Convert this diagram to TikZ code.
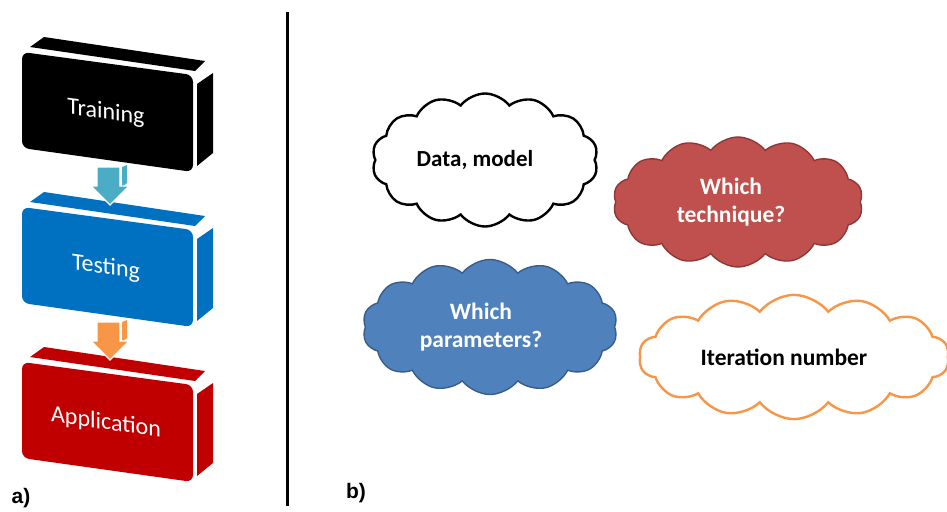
\documentclass[tikz,border=0pt]{standalone}
\usepackage{fontspec}
\setmainfont{Carlito}
\newfontfamily\lblfont{Liberation Sans}
\usetikzlibrary{shapes.symbols}
\definecolor{tstblue}{HTML}{0070C0}
\definecolor{appred}{HTML}{C00000}
\definecolor{arrblue}{HTML}{4BACC6}
\definecolor{arrorange}{HTML}{F79646}
\definecolor{techred}{HTML}{C0504D}
\definecolor{techdraw}{HTML}{8C3836}
\definecolor{parblue}{HTML}{4F81BD}
\definecolor{pardraw}{HTML}{385D8A}
\tikzset{
  % --- stage blocks (left panel) ---------------------------------------------
  boxtxt/.style={text=white,font=\fontsize{24}{26}\selectfont,yslant=-0.135,
                 inner sep=0pt},
  barr/.style={draw=white,line width=1.2pt},
  % --- question clouds (right panel) -----------------------------------------
  cl/.style={cloud,cloud puffs=14,cloud puff arc=105,align=center,
             inner sep=0pt,font=\bfseries\fontsize{23.5}{28}\selectfont},
  lbl/.style={font=\lblfont\bfseries\fontsize{21}{23}\selectfont,inner sep=0pt},
}
\begin{document}
\begin{tikzpicture}[x=1pt,y=-1pt]
  \useasboundingbox (0,0) rectangle (947,511);
  % three stacked blocks
  \foreach \yo/\col/\txt/\nm in {0/black/Training/trn,155/tstblue/Testing/tst,310/appred/Application/app}{
    \begin{scope}[shift={(0,\yo)}]
      \fill[\col] (30,47) -- (44,37) -- (205,61) -- (195,71) -- cycle;
      \fill[\col] (197,84) -- (213,73) -- (213,153) -- (197,166) -- cycle;
      \fill[\col,rounded corners=7pt] (22,52) -- (193,75) -- (193,172) -- (22,148) -- cycle;
      \node[boxtxt] (\nm) at (106,113) {\txt};
    \end{scope}
  }
  % block arrows between stages
  \foreach \yo/\col in {0/arrblue,155/arrorange}{
    \begin{scope}[shift={(0,\yo)}]
      \fill[\col] (122,167) -- (127,165) -- (127,183) -- (122,187) -- cycle;
      \filldraw[barr,fill=\col] (97,167) -- (120,167) -- (120,186) -- (129,186)
        -- (110,205) -- (91,186) -- (97,186) -- cycle;
    \end{scope}
  }
  \draw[line width=3pt] (287,12) -- (287,506);
  \node[lbl] (la) at (21,498) {a)};
  \node[lbl] (lb) at (356,493) {b)};
  % clouds (trailing \hspace pulls the text left of centre)
  \node[cl,aspect=1.7,draw=black,line width=2.4pt,fill=white,minimum width=226pt,minimum height=133pt,
        font=\bfseries\fontsize{23}{27}\selectfont] (dm) at (485,160) {Data, model\hspace*{20pt}};
  \node[cl,aspect=1.92,draw=techdraw,line width=1.4pt,fill=techred,text=white,minimum width=250pt,
        minimum height=130pt] (tq) at (738,202) {Which\hspace*{14pt}\\technique?\hspace*{14pt}};
  \node[cl,aspect=1.89,draw=pardraw,line width=1.4pt,fill=parblue,text=white,minimum width=255pt,
        minimum height=135pt] (pr) at (490,327) {Which\hspace*{18pt}\\parameters?\hspace*{18pt}};
  \node[cl,aspect=2.7,draw=arrorange,line width=2.4pt,fill=white,minimum width=310pt,
        minimum height=115pt] (it) at (794,357) {Iteration number\hspace*{20pt}};
\end{tikzpicture}
\end{document}
